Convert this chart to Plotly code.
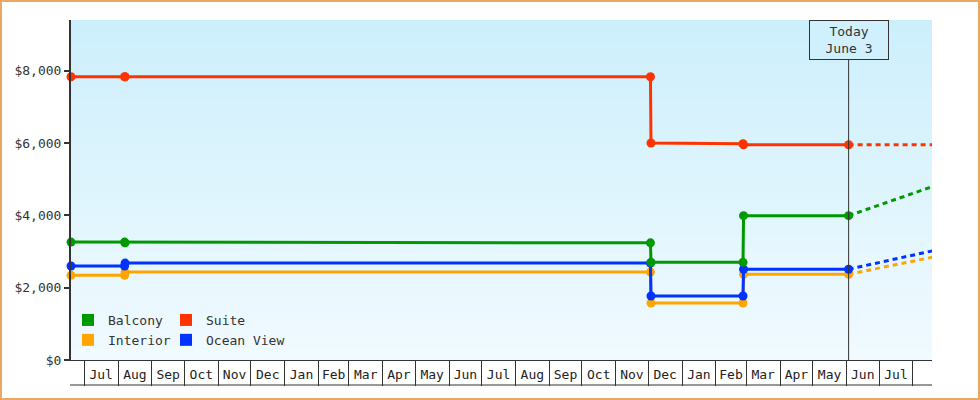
import plotly.graph_objects as go
import pandas as pd

# ---- data ----
hist_dates = ["2013-06-18 19:00", "2013-08-07 00:00", "2013-08-07 12:00",
              "2014-12-03 00:00", "2014-12-03 12:00", "2015-02-26 00:00",
              "2015-02-26 12:00", "2015-06-03 00:00"]
balcony = [3260, 3260, 3240, 3240, 2700, 2700, 3990, 3990]
interior = [2340, 2340, 2430, 2430, 1575, 1575, 2370, 2370]
ocean_view = [2600, 2600, 2680, 2680, 1770, 1770, 2510, 2510]
suite = [7830, 7830, 7830, 7830, 6000, 5980, 5950, 5950]

forecast_dates = ["2015-06-03 00:00", "2015-08-18 14:00"]
balcony_fc = [3990, 4790]
interior_fc = [2370, 2840]
ocean_view_fc = [2510, 3015]
suite_fc = [5950, 5950]

today = "2015-06-03"
today_label = "Today<br>June 3"
x_range = ["2013-06-18 19:00", "2015-08-18 14:00"]
month_starts = pd.date_range("2013-07-01", "2015-08-01", freq="MS")
month_labels = [d.strftime("%b") for d in month_starts[:-1]]
month_mids = [a + (b - a) / 2 for a, b in zip(month_starts[:-1], month_starts[1:])]
y_ticks = [0, 2000, 4000, 6000, 8000]
y_tick_labels = ["$0", "$2,000", "$4,000", "$6,000", "$8,000"]

series = [
    ("Interior", interior, interior_fc, "#ffa500"),
    ("Ocean View", ocean_view, ocean_view_fc, "#0033ff"),
    ("Balcony", balcony, balcony_fc, "#009900"),
    ("Suite", suite, suite_fc, "#ff3300"),
]

FONT = "DejaVu Sans Mono"
W, H = 980, 400
L, R, T, B = 71, 48, 20, 40
PW, PH = W - L - R, H - T - B

fig = go.Figure()

for name, vals, fc, col in series:
    fig.add_trace(go.Scatter(x=forecast_dates, y=fc, mode="lines", showlegend=False,
                             line=dict(color=col, width=3, dash="5px,4px"),
                             hoverinfo="skip"))
for name, vals, fc, col in series:
    fig.add_trace(go.Scatter(x=hist_dates, y=vals, mode="lines+markers", name=name,
                             showlegend=False, cliponaxis=False,
                             line=dict(color=col, width=3),
                             marker=dict(color=col, size=9)))

# invisible trace so the month-label axis is drawn
fig.add_trace(go.Scatter(x=[None], y=[None], xaxis="x2", showlegend=False,
                         hoverinfo="skip", mode="markers"))

# legend-only swatches (two columns)
legend_cols = {"Balcony": "legend", "Interior": "legend",
               "Suite": "legend2", "Ocean View": "legend2"}
for name in ["Balcony", "Interior", "Suite", "Ocean View"]:
    col = [s[3] for s in series if s[0] == name][0]
    fig.add_trace(go.Scatter(x=[None], y=[None], mode="markers", name=name,
                             legend=legend_cols[name],
                             marker=dict(color=col, size=12, symbol="square")))

# gradient background strips
top = (204, 239, 252)
bot = (241, 250, 255)
N = 60
shapes = []
for i in range(N):
    t = (i + 0.5) / N
    c = tuple(round(top[k] + (bot[k] - top[k]) * t) for k in range(3))
    shapes.append(dict(type="rect", xref="x domain", yref="y domain",
                       x0=0, x1=1, y0=1 - (i + 1) / N - 0.002, y1=1 - i / N,
                       fillcolor="rgb(%d,%d,%d)" % c, line=dict(width=0), layer="below"))

# today line
shapes.append(dict(type="line", xref="x", yref="y domain", x0=today, x1=today,
                   y0=0, y1=1, line=dict(color="#333333", width=1)))
# bottom line of month row
shapes.append(dict(type="line", xref="paper", yref="paper",
                   x0=-1 / PW, x1=1, y0=-25 / PH, y1=-25 / PH,
                   line=dict(color="#333333", width=1)))
# outer border
shapes.append(dict(type="rect", xref="paper", yref="paper",
                   x0=(1 - L) / PW, x1=(W - 1 - L) / PW,
                   y0=-(B - 1) / PH, y1=(PH + T - 1) / PH,
                   line=dict(color="#e9a862", width=2), fillcolor="rgba(0,0,0,0)"))

fig.update_layout(
    width=W, height=H,
    margin=dict(l=L, r=R, t=T, b=B),
    paper_bgcolor="white", plot_bgcolor="rgb(222,245,253)",
    font=dict(family=FONT, size=13, color="#333333"),
    shapes=shapes,
    xaxis=dict(type="date", range=x_range, showgrid=False, zeroline=False,
               showline=True, linecolor="#333333", linewidth=1,
               ticks="outside", ticklen=25, tickwidth=1, tickcolor="#333333",
               tickvals=list(month_starts), showticklabels=False),
    xaxis2=dict(type="date", range=x_range, overlaying="x", anchor="y", side="bottom",
                showgrid=False, zeroline=False, showline=False,
                ticks="outside", ticklen=2, tickcolor="rgba(0,0,0,0)",
                tickvals=month_mids, ticktext=month_labels,
                tickfont=dict(family=FONT, size=13, color="#222222")),
    yaxis=dict(range=[0, 9400], tickvals=y_ticks, ticktext=y_tick_labels,
               showgrid=False, zeroline=False, showline=True, linecolor="#333333",
               linewidth=2, ticks="outside", ticklen=5, tickwidth=2, tickcolor="#333333",
               tickfont=dict(family=FONT, size=13, color="#333333")),
    legend=dict(x=(68 - L) / PW, xanchor="left", y=(360 - 305) / PH, yanchor="top",
                bgcolor="rgba(0,0,0,0)", font=dict(family=FONT, size=13, color="#333333"),
                tracegroupgap=0, itemwidth=30),
    legend2=dict(x=(166 - L) / PW, xanchor="left", y=(360 - 305) / PH, yanchor="top",
                 bgcolor="rgba(0,0,0,0)", font=dict(family=FONT, size=13, color="#333333"),
                 tracegroupgap=0, itemwidth=30),
    annotations=[dict(x=today, xref="x", y=1, yref="y domain", yanchor="top",
                      text=today_label, showarrow=False, align="center",
                      bgcolor="rgb(207,240,252)", bordercolor="#333333", borderwidth=1,
                      borderpad=1, width=76, height=36,
                      font=dict(family=FONT, size=13, color="#333333"))],
)

fig.write_html("out.html", config={"displayModeBar": False},
               post_script="document.body.style.margin='0';document.body.style.padding='0';")
